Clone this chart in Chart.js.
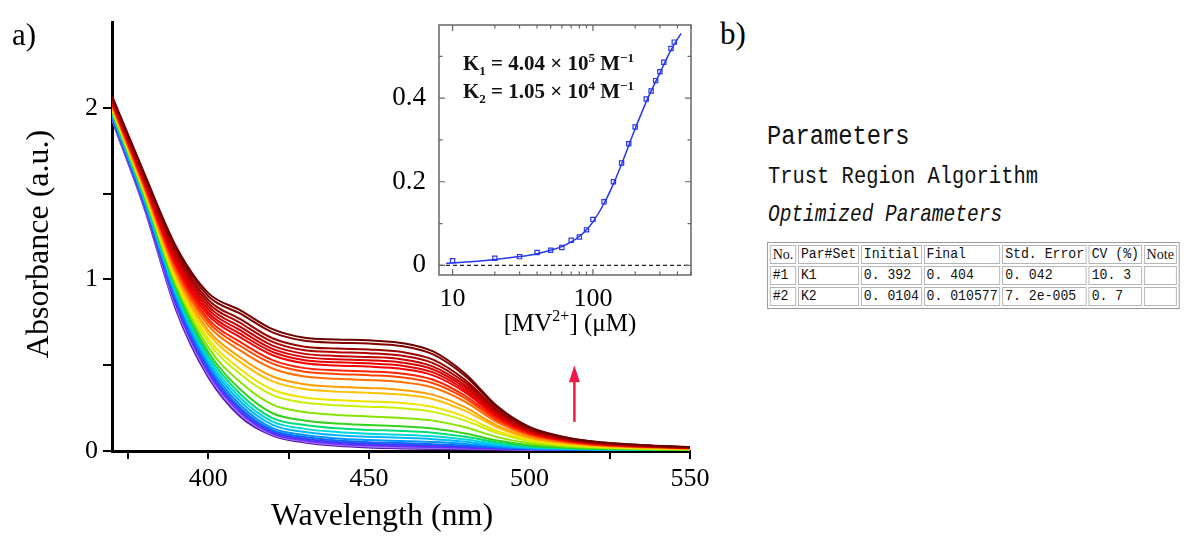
<!DOCTYPE html>
<html>
<head>
<meta charset="utf-8">
<script src="https://cdn.jsdelivr.net/npm/chart.js@4.4.0/dist/chart.umd.min.js"></script>
<style>
  body { margin: 0; background: #fff; width: 1201px; height: 538px; overflow: hidden; position: relative; }
  canvas { position: absolute; }
  #main { left: 0; top: 0; }
  #inset { left: 380px; top: 0; }
  .panel { position: absolute; font: 31px "Liberation Serif", serif; line-height: 1; color: #000; }
  .mono { position: absolute; font-family: "Liberation Mono", monospace; line-height: 1; white-space: nowrap;
          color: #111; transform-origin: left top; }
  table.params { position: absolute; left: 767px; top: 242px; border: 1px solid #999; border-spacing: 2px;
                 font: 14px "Liberation Mono", monospace; color: #111; transform: scaleX(0.94); transform-origin: left top; }
  table.params td { border: 1px solid #b5b5b5; padding: 0 2px; height: 17px; white-space: nowrap; line-height: 17px; }
  table.params td.serif { font-family: "Liberation Serif", serif; font-size: 15px; }
</style>
</head>
<body>
<canvas id="main" width="720" height="538"></canvas>
<canvas id="inset" width="330" height="345"></canvas>

<div class="panel" style="left:12px;top:19px;">a)</div>
<div class="panel" style="left:720px;top:18px;">b)</div>

<div class="mono" style="left:767px;top:124px;font-size:27px;transform:scaleX(0.88);">Parameters</div>
<div class="mono" style="left:768px;top:165px;font-size:24px;transform:scaleX(0.852);">Trust Region Algorithm</div>
<div class="mono" style="left:768px;top:204px;font-size:23px;font-style:italic;transform:scaleX(0.848);">Optimized Parameters</div>

<table class="params">
  <tr><td class="serif">No.</td><td>Par#Set</td><td>Initial</td><td>Final</td><td>Std. Error</td><td>CV (%)</td><td class="serif">Note</td></tr>
  <tr><td>#1</td><td>K1</td><td>0. 392</td><td>0. 404</td><td>0. 042</td><td>10. 3</td><td></td></tr>
  <tr><td>#2</td><td>K2</td><td>0. 0104</td><td>0. 010577</td><td>7. 2e-005</td><td>0. 7</td><td></td></tr>
</table>

<script>
Chart.defaults.font.family = '"Liberation Serif", serif';
Chart.defaults.color = '#000';

// --- panel a: titration spectra (absorbance vs wavelength) ---
const wavelengths = [370, 380, 390, 400, 410, 420, 430, 440, 450, 460, 470, 480, 490, 500, 510, 520, 535, 550];

// one row per spectrum, lowest (purple) first, highest (dark red) last
const spectra = [
  [1.930, 1.420, 0.820, 0.430, 0.200, 0.090, 0.050, 0.030, 0.020, 0.015, 0.012, 0.010, 0.008, 0.006, 0.005, 0.004, 0.003, 0.002],
  [1.936, 1.428, 0.835, 0.444, 0.212, 0.096, 0.056, 0.036, 0.026, 0.021, 0.018, 0.014, 0.011, 0.007, 0.006, 0.005, 0.003, 0.002],
  [1.941, 1.436, 0.850, 0.457, 0.224, 0.102, 0.062, 0.042, 0.033, 0.027, 0.023, 0.019, 0.013, 0.009, 0.007, 0.005, 0.004, 0.002],
  [1.947, 1.444, 0.864, 0.472, 0.238, 0.112, 0.071, 0.052, 0.042, 0.037, 0.032, 0.025, 0.017, 0.011, 0.008, 0.006, 0.004, 0.003],
  [1.952, 1.452, 0.879, 0.487, 0.251, 0.121, 0.081, 0.061, 0.051, 0.046, 0.040, 0.032, 0.021, 0.013, 0.009, 0.007, 0.005, 0.003],
  [1.958, 1.460, 0.894, 0.503, 0.268, 0.133, 0.093, 0.073, 0.064, 0.058, 0.052, 0.041, 0.026, 0.015, 0.011, 0.008, 0.005, 0.003],
  [1.964, 1.468, 0.909, 0.520, 0.288, 0.152, 0.111, 0.092, 0.083, 0.077, 0.069, 0.054, 0.033, 0.019, 0.013, 0.009, 0.006, 0.004],
  [1.969, 1.476, 0.924, 0.538, 0.309, 0.171, 0.129, 0.111, 0.101, 0.095, 0.086, 0.067, 0.041, 0.023, 0.015, 0.011, 0.007, 0.005],
  [1.975, 1.484, 0.938, 0.556, 0.331, 0.192, 0.151, 0.132, 0.123, 0.117, 0.106, 0.083, 0.050, 0.028, 0.018, 0.012, 0.008, 0.006],
  [1.980, 1.492, 0.953, 0.577, 0.358, 0.220, 0.178, 0.160, 0.151, 0.144, 0.131, 0.102, 0.061, 0.034, 0.022, 0.015, 0.010, 0.006],
  [1.986, 1.500, 0.968, 0.604, 0.400, 0.270, 0.227, 0.210, 0.201, 0.193, 0.177, 0.138, 0.081, 0.045, 0.028, 0.019, 0.012, 0.008],
  [1.992, 1.508, 0.983, 0.634, 0.447, 0.326, 0.282, 0.266, 0.258, 0.249, 0.228, 0.177, 0.104, 0.057, 0.035, 0.023, 0.015, 0.010],
  [1.997, 1.516, 0.998, 0.655, 0.476, 0.357, 0.312, 0.297, 0.289, 0.280, 0.256, 0.199, 0.116, 0.064, 0.039, 0.026, 0.017, 0.011],
  [2.003, 1.524, 1.012, 0.683, 0.518, 0.406, 0.361, 0.346, 0.339, 0.329, 0.302, 0.234, 0.137, 0.074, 0.046, 0.030, 0.019, 0.013],
  [2.008, 1.532, 1.027, 0.703, 0.545, 0.434, 0.389, 0.374, 0.367, 0.356, 0.327, 0.254, 0.148, 0.080, 0.049, 0.032, 0.021, 0.014],
  [2.014, 1.540, 1.042, 0.730, 0.585, 0.481, 0.434, 0.421, 0.414, 0.402, 0.370, 0.287, 0.167, 0.090, 0.055, 0.036, 0.023, 0.015],
  [2.020, 1.548, 1.057, 0.751, 0.612, 0.509, 0.462, 0.449, 0.442, 0.430, 0.395, 0.307, 0.178, 0.097, 0.059, 0.038, 0.025, 0.016],
  [2.025, 1.556, 1.072, 0.769, 0.635, 0.530, 0.483, 0.470, 0.464, 0.452, 0.415, 0.322, 0.187, 0.101, 0.062, 0.040, 0.026, 0.017],
  [2.031, 1.564, 1.086, 0.790, 0.662, 0.558, 0.511, 0.498, 0.492, 0.479, 0.441, 0.342, 0.198, 0.107, 0.065, 0.043, 0.027, 0.018],
  [2.036, 1.572, 1.101, 0.807, 0.682, 0.577, 0.529, 0.517, 0.511, 0.498, 0.458, 0.355, 0.206, 0.111, 0.068, 0.044, 0.028, 0.019],
  [2.042, 1.580, 1.116, 0.825, 0.703, 0.595, 0.547, 0.535, 0.529, 0.516, 0.475, 0.369, 0.213, 0.115, 0.070, 0.046, 0.029, 0.019],
  [2.048, 1.588, 1.131, 0.843, 0.723, 0.614, 0.566, 0.554, 0.548, 0.535, 0.492, 0.382, 0.221, 0.119, 0.073, 0.047, 0.030, 0.020],
  [2.053, 1.596, 1.146, 0.861, 0.746, 0.636, 0.587, 0.576, 0.570, 0.556, 0.512, 0.397, 0.230, 0.124, 0.075, 0.049, 0.031, 0.021],
  [2.059, 1.604, 1.160, 0.880, 0.768, 0.657, 0.608, 0.597, 0.592, 0.578, 0.532, 0.413, 0.239, 0.129, 0.078, 0.051, 0.032, 0.021],
  [2.064, 1.612, 1.175, 0.902, 0.800, 0.691, 0.642, 0.631, 0.626, 0.612, 0.563, 0.437, 0.252, 0.136, 0.083, 0.054, 0.034, 0.022],
  [2.070, 1.620, 1.190, 0.920, 0.820, 0.710, 0.660, 0.650, 0.645, 0.630, 0.580, 0.450, 0.260, 0.140, 0.085, 0.055, 0.035, 0.023]
];

const lineColors = [
  '#5a14a8', '#9d74ff', '#6a2cff', '#3a3cff', '#1464ff', '#0092ff', '#00b6ff', '#00d6d8', '#00dc78',
  '#34d21c', '#86e400', '#c8f000', '#f2e200', '#ffc200', '#ff9c00', '#ff7000', '#ff4400', '#ff2200',
  '#f80000', '#e80000', '#d80000', '#c60000', '#b00000', '#980000', '#820000', '#6e0000'
];

const yTicksMain = [0, 1, 2];
const xTicksMain = [400, 450, 500, 550];
const xTitleMain = 'Wavelength (nm)';
const yTitleMain = 'Absorbance (a.u.)';
const arrowMark = { x: 514, from: 0.17, to: 0.5 };

// --- inset: binding isotherm ---
const concPoints = [10, 20, 30, 40, 50, 60, 70, 80, 90, 100, 120, 140, 160, 180, 200, 240, 260, 280, 300, 320, 360, 380];
const deltaPoints = [0.011, 0.017, 0.021, 0.031, 0.036, 0.043, 0.060, 0.068, 0.085, 0.110, 0.152, 0.200,
                     0.245, 0.291, 0.331, 0.398, 0.417, 0.442, 0.463, 0.486, 0.519, 0.534];
const fitConc = [9, 10, 15, 20, 30, 40, 50, 60, 70, 80, 90, 100, 120, 140, 160, 180, 200, 250, 300, 350, 400, 425];
const fitDelta = [0.005, 0.006, 0.010, 0.014, 0.021, 0.028, 0.036, 0.045, 0.056, 0.069, 0.085, 0.104,
                  0.148, 0.195, 0.242, 0.287, 0.327, 0.405, 0.460, 0.507, 0.541, 0.555];
const insetXLabels = [10, 100];
const insetYLabels = [0, 0.2, 0.4];
const insetXMinor = [20, 30, 40, 50, 60, 70, 80, 90, 200, 300, 400, 500];
const insetYMinor = [0.1, 0.3, 0.5];

const serif = '"Liberation Serif", serif';

// draws text with sub/superscript pieces: [text, 0 normal | 1 sub | 2 sup]
function richText(ctx, parts, x, y, size, weight, align) {
  const fontOf = m => `${weight} ${m ? Math.round(size * 0.62) : size}px ${serif}`;
  let total = 0;
  parts.forEach(([t, m]) => { ctx.font = fontOf(m); total += ctx.measureText(t).width; });
  let cx = align === 'center' ? x - total / 2 : x;
  ctx.textAlign = 'left';
  ctx.textBaseline = 'alphabetic';
  parts.forEach(([t, m]) => {
    ctx.font = fontOf(m);
    const dy = m === 1 ? size * 0.22 : m === 2 ? -size * 0.4 : 0;
    ctx.fillText(t, cx, y + dy);
    cx += ctx.measureText(t).width;
  });
}

const mainDecor = {
  id: 'mainDecor',
  afterDraw(chart) {
    const { ctx, scales: { x, y } } = chart;
    ctx.save();
    ctx.fillStyle = '#000';
    ctx.font = `32px ${serif}`;
    ctx.textAlign = 'center';
    ctx.textBaseline = 'middle';
    ctx.fillText(xTitleMain, 382, 517);
    ctx.translate(40, 244);
    ctx.rotate(-Math.PI / 2);
    ctx.fillText(yTitleMain, 0, 0);
    ctx.restore();

    // red arrow showing the direction of change
    const ax = x.getPixelForValue(arrowMark.x);
    const yb = y.getPixelForValue(arrowMark.from);
    const yt = y.getPixelForValue(arrowMark.to);
    ctx.save();
    ctx.strokeStyle = '#ee1a4c';
    ctx.fillStyle = '#ee1a4c';
    ctx.lineWidth = 2.5;
    ctx.beginPath();
    ctx.moveTo(ax, yb);
    ctx.lineTo(ax, yt + 14);
    ctx.stroke();
    ctx.beginPath();
    ctx.moveTo(ax, yt);
    ctx.lineTo(ax - 5.5, yt + 17);
    ctx.lineTo(ax + 5.5, yt + 17);
    ctx.closePath();
    ctx.fill();
    ctx.restore();
  }
};

new Chart(document.getElementById('main'), {
  type: 'line',
  data: {
    datasets: spectra.map((row, i) => ({
      data: row.map((v, j) => ({ x: wavelengths[j], y: v })),
      borderColor: lineColors[i],
      borderWidth: 2,
      pointRadius: 0,
      fill: false,
      cubicInterpolationMode: 'monotone',
      order: spectra.length - i
    }))
  },
  options: {
    responsive: false,
    animation: false,
    layout: { padding: { left: 0, top: 22, right: 30, bottom: 0 } },
    plugins: { legend: { display: false }, tooltip: { enabled: false } },
    scales: {
      x: {
        type: 'linear',
        min: 370,
        max: 550,
        afterFit: s => { s.height = 87; },
        border: { color: '#000', width: 3 },
        grid: { drawOnChartArea: false, tickLength: 8, color: '#000', lineWidth: 2 },
        ticks: {
          stepSize: 25,
          includeBounds: false,
          autoSkip: false,
          maxRotation: 0,
          padding: 5,
          font: { size: 26 },
          callback: v => xTicksMain.includes(v) ? String(v) : ''
        }
      },
      y: {
        min: 0,
        max: 2.5,
        afterFit: s => { s.width = 112; },
        border: { color: '#000', width: 3 },
        grid: {
          drawOnChartArea: false,
          tickLength: 9,
          lineWidth: 2,
          color: c => (c.tick && c.tick.value === 2.5) ? 'rgba(0,0,0,0)' : '#000'
        },
        ticks: {
          stepSize: 0.5,
          padding: 5,
          font: { size: 26 },
          callback: v => yTicksMain.includes(v) ? String(v) : ''
        }
      }
    }
  },
  plugins: [mainDecor]
});

const insetDecor = {
  id: 'insetDecor',
  afterDraw(chart) {
    const { ctx, chartArea: a, scales: { x, y } } = chart;
    ctx.save();
    // frame
    ctx.strokeStyle = '#666';
    ctx.lineWidth = 1.5;
    ctx.strokeRect(a.left, a.top, a.right - a.left, a.bottom - a.top);
    // inward ticks on all four sides
    ctx.lineWidth = 1.2;
    ctx.beginPath();
    const xt = (v, len) => {
      const px = x.getPixelForValue(v);
      ctx.moveTo(px, a.bottom); ctx.lineTo(px, a.bottom - len);
      ctx.moveTo(px, a.top); ctx.lineTo(px, a.top + len);
    };
    const yt = (v, len) => {
      const py = y.getPixelForValue(v);
      ctx.moveTo(a.left, py); ctx.lineTo(a.left + len, py);
      ctx.moveTo(a.right, py); ctx.lineTo(a.right - len, py);
    };
    insetXLabels.forEach(v => xt(v, 6));
    insetXMinor.forEach(v => xt(v, 3.5));
    insetYLabels.forEach(v => yt(v, 6));
    insetYMinor.forEach(v => yt(v, 3.5));
    ctx.stroke();

    ctx.fillStyle = '#111';
    richText(ctx, [['K', 0], ['1', 1], [' = 4.04 × 10', 0], ['5', 2], [' M', 0], ['−1', 2]], 83, 70, 21, 'bold', 'left');
    richText(ctx, [['K', 0], ['2', 1], [' = 1.05 × 10', 0], ['4', 2], [' M', 0], ['−1', 2]], 83, 98, 21, 'bold', 'left');

    ctx.fillStyle = '#000';
    richText(ctx, [['[MV', 0], ['2+', 2], ['] (μM)', 0]], 190, 331, 25, 'normal', 'center');
    ctx.restore();
  }
};

new Chart(document.getElementById('inset'), {
  type: 'line',
  data: {
    datasets: [
      {
        data: fitConc.map((c, i) => ({ x: c, y: fitDelta[i] })),
        borderColor: '#2536ee',
        borderWidth: 1.5,
        pointRadius: 0,
        fill: false,
        cubicInterpolationMode: 'monotone'
      },
      {
        data: concPoints.map((c, i) => ({ x: c, y: deltaPoints[i] })),
        showLine: false,
        pointStyle: 'rect',
        pointRadius: 3,
        pointBorderWidth: 1.2,
        pointBorderColor: '#2536ee',
        pointBackgroundColor: 'rgba(0,0,0,0)'
      },
      {
        data: [{ x: 8, y: 0 }, { x: 500, y: 0 }],
        borderColor: '#222',
        borderWidth: 1.3,
        borderDash: [4, 3],
        pointRadius: 0,
        fill: false
      }
    ]
  },
  options: {
    responsive: false,
    animation: false,
    layout: { padding: { left: 0, top: 25, right: 19, bottom: 0 } },
    plugins: { legend: { display: false }, tooltip: { enabled: false } },
    scales: {
      x: {
        type: 'logarithmic',
        min: 8,
        max: 500,
        afterFit: s => { s.height = 70; },
        border: { display: false },
        grid: { display: false },
        ticks: {
          autoSkip: false,
          maxRotation: 0,
          padding: 1,
          font: { size: 26 },
          callback: v => insetXLabels.includes(v) ? String(v) : ''
        }
      },
      y: {
        min: -0.023,
        max: 0.575,
        afterFit: s => { s.width = 59; },
        border: { display: false },
        grid: { display: false },
        ticks: {
          stepSize: 0.1,
          includeBounds: false,
          padding: 5,
          font: { size: 27 },
          callback: v => {
            const r = Math.round(v * 10) / 10;
            return insetYLabels.includes(r) ? String(r) : '';
          }
        }
      }
    }
  },
  plugins: [insetDecor]
});
</script>
</body>
</html>
